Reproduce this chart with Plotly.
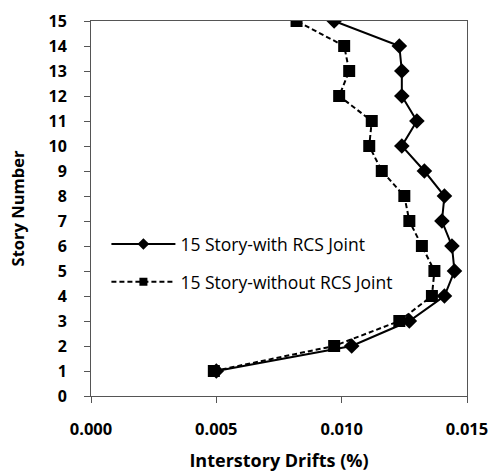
import plotly.graph_objects as go

stories = [1, 2, 3, 4, 5, 6, 7, 8, 9, 10, 11, 12, 13, 14, 15]
with_rcs = [0.0050, 0.0104, 0.0127, 0.0141, 0.0145, 0.0144, 0.0140, 0.0141,
            0.0133, 0.0124, 0.0130, 0.0124, 0.0124, 0.0123, 0.0097]
without_rcs = [0.0049, 0.0097, 0.0123, 0.0136, 0.0137, 0.0132, 0.0127, 0.0125,
               0.0116, 0.0111, 0.0112, 0.0099, 0.0103, 0.0101, 0.0082]
series_names = ["15 Story-with RCS Joint", "15 Story-without RCS Joint"]
x_ticks = [0.000, 0.005, 0.010, 0.015]
x_tick_labels = ["0.000", "0.005", "0.010", "0.015"]
y_ticks = list(range(0, 16))

FONT = "Open Sans"

fig = go.Figure()
specs = [
    (with_rcs, series_names[0], "a", "solid", "diamond", 12, 9),
    (without_rcs, series_names[1], "b", "5px,3px", "square", 12, 8),
]
for xs, name, grp, dash, sym, msize, lsize in specs:
    fig.add_trace(go.Scatter(
        x=xs, y=stories, mode="lines+markers",
        name=name, legendgroup=grp, showlegend=False,
        line=dict(color="black", width=2, dash=dash),
        marker=dict(symbol=sym, size=msize, color="black"),
    ))
    # legend entry with the smaller legend marker
    fig.add_trace(go.Scatter(
        x=[None], y=[None], mode="lines+markers",
        name=name, legendgroup=grp, showlegend=True,
        line=dict(color="black", width=2, dash=dash),
        marker=dict(symbol=sym, size=lsize, color="black"),
    ))

fig.update_layout(
    width=490, height=472,
    margin=dict(l=91, r=23, t=21, b=76),
    paper_bgcolor="white", plot_bgcolor="white",
    font=dict(family=FONT, color="black"),
    showlegend=True,
    legend=dict(
        x=0.041, y=0.453, xanchor="left", yanchor="top",
        font=dict(family=FONT, size=17.5, color="black"),
        bgcolor="rgba(0,0,0,0)", itemwidth=64, tracegroupgap=12,
    ),
    xaxis=dict(
        range=[0, 0.015], tickvals=x_ticks, ticktext=x_tick_labels,
        showgrid=False, zeroline=False, automargin=False,
        showline=True, linecolor="#555", linewidth=1, mirror=True,
        ticks="outside", ticklen=6, tickcolor="#555",
        tickfont=dict(family=FONT, size=16.5, weight="bold"),
        ticklabelstandoff=12,
        title=dict(text="Interstory Drifts (%)", font=dict(family=FONT, size=18, weight="bold"), standoff=19),
    ),
    yaxis=dict(
        range=[0, 15], tickvals=y_ticks,
        showgrid=False, zeroline=False, automargin=False,
        showline=True, linecolor="#555", linewidth=1, mirror=True,
        ticks="outside", ticklen=6, tickcolor="#555",
        tickfont=dict(family=FONT, size=16, weight="bold"),
        ticklabelstandoff=14,
        title=dict(text="Story Number", font=dict(family=FONT, size=16.5, weight="bold"), standoff=19),
    ),
)

fig.write_html(
    "out.html",
    config={"displayModeBar": False},
    post_script="document.body.style.margin='0';document.body.style.overflow='hidden';",
)
